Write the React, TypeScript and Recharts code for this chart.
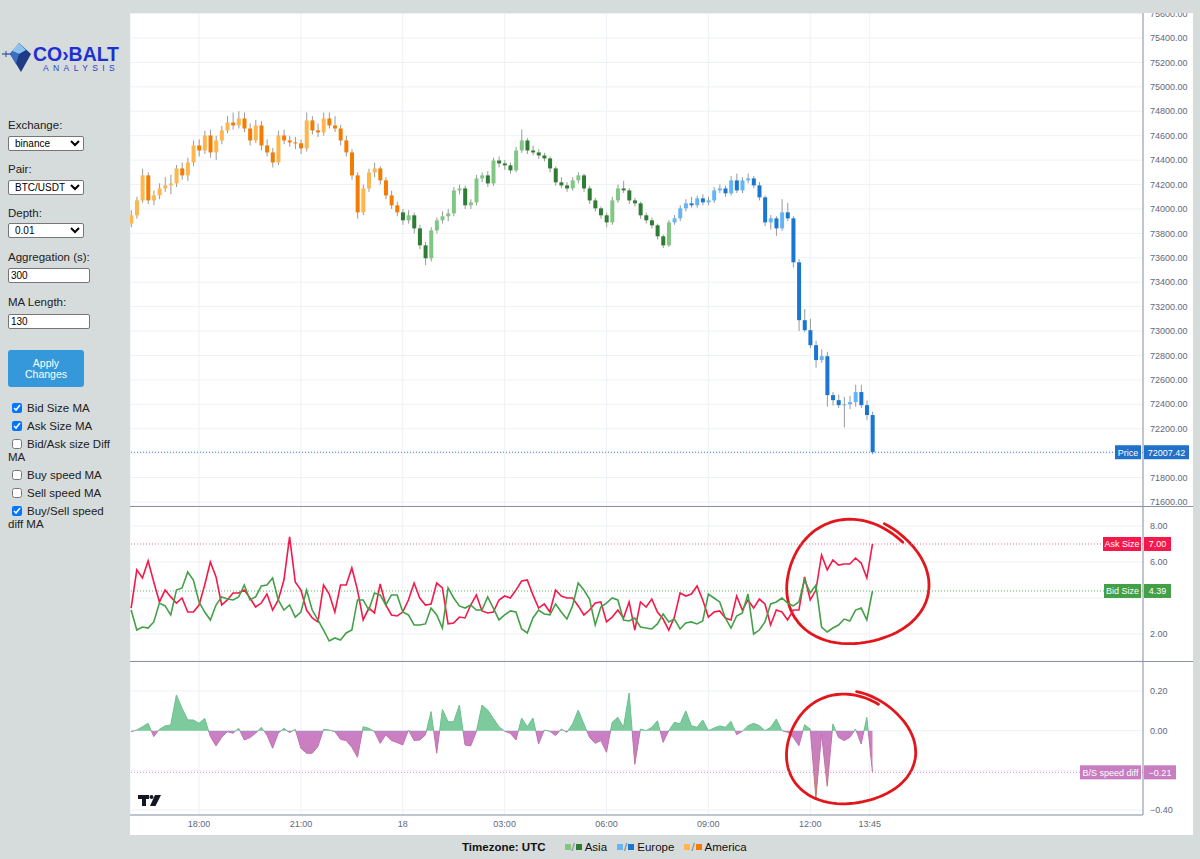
import React from "react";
import {
  ComposedChart,
  Bar,
  Line,
  Area,
  XAxis,
  YAxis,
  CartesianGrid,
  ReferenceLine,
  ReferenceArea,
} from "recharts";

// 10 minute bars, first bar 16:00 UTC
const BAR_MINUTES = 10;
const FIRST_HOUR = 16;

const timeTicks = [120, 300, 480, 660, 840, 1020, 1200, 1305];
const timeLabels = ["18:00", "21:00", "18", "03:00", "06:00", "09:00", "12:00", "13:45"];

const priceTicks = [
  71600, 71800, 72000, 72200, 72400, 72600, 72800, 73000, 73200, 73400, 73600,
  73800, 74000, 74200, 74400, 74600, 74800, 75000, 75200, 75400, 75600,
];
const sizeTicks = [2, 4, 6, 8];
const speedTicks = [-0.4, -0.2, 0, 0.2];

// [open, high, low, close]
const priceBars: [number, number, number, number][] = [
  [73880, 73990, 73850, 73948], [73948, 74100, 73920, 74070], [74070, 74330, 74050, 74275], [74275, 74300, 74040, 74070], [74070, 74150, 74030, 74111],
  [74111, 74210, 74080, 74168], [74168, 74260, 74140, 74193], [74193, 74280, 74120, 74209], [74209, 74360, 74180, 74332], [74332, 74380, 74240, 74275],
  [74275, 74420, 74230, 74381], [74381, 74560, 74350, 74520], [74520, 74570, 74430, 74479], [74479, 74640, 74450, 74602], [74602, 74650, 74420, 74463],
  [74463, 74600, 74400, 74561], [74561, 74680, 74530, 74643], [74643, 74760, 74620, 74708], [74708, 74790, 74650, 74684], [74684, 74800, 74660, 74741],
  [74741, 74790, 74630, 74659], [74659, 74700, 74520, 74561], [74561, 74730, 74540, 74684], [74684, 74720, 74480, 74520], [74520, 74570, 74430, 74463],
  [74463, 74500, 74340, 74381], [74381, 74640, 74360, 74602], [74602, 74650, 74530, 74561], [74561, 74600, 74510, 74545], [74545, 74590, 74490, 74538],
  [74538, 74570, 74450, 74496], [74496, 74790, 74470, 74725], [74725, 74760, 74610, 74643], [74643, 74700, 74590, 74627], [74627, 74790, 74600, 74741],
  [74741, 74790, 74660, 74684], [74684, 74760, 74630, 74659], [74659, 74690, 74520, 74561], [74561, 74600, 74430, 74463], [74463, 74490, 74240, 74275],
  [74275, 74300, 73920, 73972], [73972, 74200, 73950, 74168], [74168, 74330, 74140, 74299], [74299, 74380, 74260, 74332], [74332, 74350, 74200, 74234],
  [74234, 74260, 74080, 74111], [74111, 74150, 74000, 74030], [74030, 74060, 73940, 73972], [73972, 74000, 73870, 73907], [73907, 73990, 73880, 73948],
  [73948, 73970, 73800, 73841], [73841, 73870, 73670, 73702], [73702, 73730, 73540, 73596], [73596, 73850, 73570, 73825], [73825, 73930, 73800, 73907],
  [73907, 73980, 73880, 73940], [73940, 74000, 73900, 73964], [73964, 74180, 73940, 74152], [74152, 74200, 74120, 74168], [74168, 74190, 74000, 74030],
  [74030, 74080, 74000, 74054], [74054, 74280, 74030, 74250], [74250, 74300, 74220, 74275], [74275, 74310, 74180, 74209], [74209, 74420, 74190, 74397],
  [74397, 74430, 74340, 74373], [74373, 74400, 74320, 74357], [74357, 74380, 74290, 74316], [74316, 74510, 74300, 74479], [74479, 74650, 74460, 74561],
  [74561, 74580, 74450, 74479], [74479, 74520, 74440, 74463], [74463, 74490, 74410, 74438], [74438, 74460, 74390, 74414], [74414, 74430, 74300, 74332],
  [74332, 74350, 74190, 74218], [74218, 74260, 74170, 74193], [74193, 74220, 74140, 74168], [74168, 74260, 74150, 74234], [74234, 74300, 74210, 74275],
  [74275, 74290, 74140, 74168], [74168, 74190, 74040, 74070], [74070, 74090, 73980, 74005], [74005, 74020, 73920, 73948], [73948, 73970, 73850, 73890],
  [73890, 74100, 73870, 74070], [74070, 74200, 74050, 74168], [74168, 74230, 74130, 74152], [74152, 74170, 74040, 74070], [74070, 74090, 74020, 74046],
  [74046, 74060, 73920, 73948], [73948, 73970, 73880, 73907], [73907, 73930, 73840, 73866], [73866, 73880, 73750, 73776], [73776, 73790, 73680, 73702],
  [73702, 73910, 73690, 73890], [73890, 73950, 73870, 73923], [73923, 74030, 73900, 74005], [74005, 74080, 73980, 74046], [74046, 74100, 74010, 74030],
  [74030, 74110, 74010, 74087], [74087, 74120, 74030, 74054], [74054, 74100, 74030, 74070], [74070, 74180, 74050, 74152], [74152, 74200, 74130, 74168],
  [74168, 74190, 74100, 74128], [74128, 74270, 74110, 74234], [74234, 74290, 74130, 74152], [74152, 74260, 74130, 74234], [74234, 74290, 74210, 74250],
  [74250, 74270, 74170, 74193], [74193, 74220, 74070, 74095], [74095, 74110, 73860, 73890], [73890, 73950, 73830, 73923], [73923, 73940, 73780, 73841],
  [73841, 74080, 73820, 73972], [73972, 74050, 73900, 73923], [73923, 73940, 73520, 73563], [73563, 73590, 73000, 73089], [73089, 73180, 72990, 73007],
  [73007, 73100, 72860, 72884], [72884, 72920, 72700, 72762], [72762, 72850, 72740, 72794], [72794, 72830, 72380, 72475], [72475, 72500, 72390, 72434],
  [72434, 72480, 72370, 72393], [72393, 72460, 72210, 72400], [72400, 72470, 72360, 72418], [72418, 72560, 72380, 72500], [72500, 72560, 72370, 72393],
  [72393, 72430, 72270, 72312], [72312, 72340, 71990, 72007.42],
];

const askSize = [
  3.44, 5.56, 5.11, 6.06, 4.89, 3.78, 4.44, 4.06, 3.72, 4.0,
  3.22, 3.22, 3.61, 4.72, 6.0, 5.17, 3.61, 3.89, 4.28, 4.28,
  4.44, 4.0, 3.5, 3.72, 4.22, 3.33, 3.89, 5.0, 7.39, 4.89,
  4.44, 3.33, 2.89, 2.67, 4.72, 4.22, 3.22, 4.72, 4.72, 5.67,
  4.44, 2.78, 3.44, 3.17, 4.78, 3.61, 3.06, 3.0, 3.22, 3.89,
  4.83, 4.0, 3.61, 3.67, 4.83, 4.56, 2.56, 2.61, 2.94, 2.89,
  3.61, 4.17, 3.28, 3.17, 3.22, 3.89, 4.11, 4.0, 4.44, 4.94,
  5.0, 4.17, 3.44, 3.67, 3.22, 4.44, 4.11, 4.0, 4.0, 3.56,
  3.06, 3.33, 3.72, 3.78, 2.67, 2.94, 3.33, 2.89, 3.78, 2.22,
  3.78, 3.5, 3.94, 3.22, 2.83, 2.22, 2.94, 4.28, 4.11, 4.22,
  4.67, 3.89, 2.94, 3.22, 3.28, 2.89, 2.78, 4.11, 3.33, 3.89,
  3.44, 3.94, 3.67, 2.5, 3.33, 3.22, 2.78, 3.33, 3.33, 5.17,
  3.89, 4.44, 6.39, 5.56, 6.11, 5.83, 5.89, 5.89, 6.22, 5.94,
  5.11, 7.0,
];

const bidSize = [
  3.33, 2.22, 2.39, 2.33, 2.67, 3.72, 3.56, 3.06, 4.44, 4.56,
  5.44, 5.0, 3.78, 3.22, 2.78, 3.61, 4.06, 3.94, 3.89, 4.06,
  4.72, 3.89, 4.06, 4.67, 4.72, 5.11, 3.89, 3.33, 3.61, 2.94,
  3.22, 4.44, 3.33, 2.78, 2.22, 1.61, 1.78, 1.67, 2.06, 2.22,
  3.89, 3.89, 3.33, 4.28, 4.17, 3.61, 4.17, 4.17, 3.22, 3.06,
  2.5, 2.5, 2.56, 3.44, 3.06, 2.33, 4.56, 4.0, 3.56, 3.44,
  3.61, 3.33, 3.33, 4.06, 3.44, 2.78, 3.06, 3.28, 3.22, 2.28,
  2.06, 2.89, 3.33, 3.11, 3.06, 3.67, 3.22, 2.83, 3.56, 4.83,
  4.44, 3.94, 2.5, 3.5, 3.72, 4.0, 3.89, 2.78, 2.72, 2.89,
  2.39, 2.33, 2.28, 2.56, 3.11, 2.67, 2.83, 2.28, 2.61, 2.67,
  2.56, 2.72, 4.22, 4.0, 3.78, 2.89, 2.33, 3.0, 3.17, 4.22,
  2.0, 2.22, 2.67, 3.67, 3.78, 4.0, 3.72, 3.56, 3.78, 5.0,
  4.28, 4.72, 2.39, 2.11, 2.33, 2.5, 2.83, 2.72, 3.33, 3.44,
  2.78, 4.39,
];

const speedDiff = [
  -0.005, 0.003, 0.02, 0.037, -0.03, 0.007, 0.024, 0.029, 0.18, 0.113,
  0.054, 0.054, 0.037, 0.062, -0.03, -0.077, -0.034, -0.005, -0.013, 0.012,
  -0.047, -0.035, -0.013, 0.017, -0.022, -0.089, -0.013, 0.012, -0.01, 0.007,
  -0.089, -0.114, -0.114, -0.08, 0.007, 0.003, -0.005, -0.044, -0.05, -0.084,
  -0.134, 0.02, 0.012, -0.005, -0.064, -0.022, -0.05, -0.06, -0.072, 0.003,
  -0.05, -0.047, -0.022, 0.096, -0.114, 0.107, 0.045, 0.045, 0.129, -0.072,
  -0.077, -0.005, 0.129, 0.104, 0.062, 0.02, -0.003, -0.013, -0.047, 0.064,
  0.02, 0.064, -0.067, 0.003, -0.003, -0.025, 0.008, -0.008, 0.034, 0.104,
  0.034, -0.034, -0.064, -0.05, -0.109, 0.042, 0.067, 0.017, 0.19, -0.17,
  0.008, 0.0, 0.017, 0.05, -0.059, 0.0, 0.042, 0.034, 0.1, 0.025,
  0.017, 0.054, 0.0, 0.013, 0.024, 0.017, 0.047, -0.02, -0.003, 0.025,
  0.037, 0.025, 0.0, 0.017, 0.059, 0.0, -0.008, -0.034, -0.076, 0.03,
  0.008, -0.34, -0.017, -0.28, 0.034, -0.034, -0.05, -0.034, 0.008, -0.067,
  0.067, -0.21,
];

const sessionColors = {
  asia: { up: "#81c784", down: "#2e7d32" },
  europe: { up: "#64b5f6", down: "#1976d2" },
  america: { up: "#ffb74d", down: "#f57c00" },
};

const rows = priceBars.map(([open, high, low, close], i) => ({
  t: i * BAR_MINUTES,
  open,
  high,
  low,
  close,
  range: [low, high],
  ask: askSize[i],
  bid: bidSize[i],
  speed: speedDiff[i],
}));

const W = 1063;
const X_DOMAIN = [-2, 1788];
const AXIS = "#8a93a6";
const GRID = "#eef1f6";
const TEXT = "#5f687c";
const FONT = "'Liberation Sans', Arial, sans-serif";
const tick = { fill: TEXT, fontSize: 9, fontFamily: FONT };
const fmt = (v: number) => v.toFixed(2).replace("-", "\u2212");
const noMargin = { top: 0, right: 0, bottom: 0, left: 0 };

function sessionOf(minute: number) {
  const hour = (FIRST_HOUR + Math.floor(minute / 60)) % 24;
  if (hour >= 16) return sessionColors.america;
  if (hour < 8) return sessionColors.asia;
  return sessionColors.europe;
}

// axis tick that stays hidden under a value tag, like the trading view scale
function ScaleTick(props: any) {
  const { x, y, payload, tags, gap } = props;
  const v = payload.value;
  if ((tags as number[]).some((t) => Math.abs(t - v) < gap)) return null;
  return (
    <text x={x} y={y} dy="0.355em" textAnchor="start" fill={TEXT} fontSize={9} fontFamily={FONT}>
      {fmt(v)}
    </text>
  );
}

function Candle(props: any) {
  const { x, y, width, height, payload } = props;
  if (!payload || x == null) return null;
  const { open, high, low, close, t } = payload;
  const top = Math.min(y, y + height);
  const h = Math.abs(height);
  const span = high - low || 1;
  const yOf = (v: number) => top + ((high - v) / span) * h;
  const bodyTop = yOf(Math.max(open, close));
  const bodyBottom = yOf(Math.min(open, close));
  const colors = sessionOf(t);
  const cx = x + width / 2;
  return (
    <g>
      <line x1={cx} x2={cx} y1={top} y2={top + h} stroke="#999" strokeWidth={1} />
      <rect
        x={x}
        y={bodyTop}
        width={width}
        height={Math.max(1, bodyBottom - bodyTop)}
        fill={close >= open ? colors.up : colors.down}
      />
    </g>
  );
}

function TagLabel(props: any) {
  const { viewBox, name, value, color, nameWidth, valueWidth } = props;
  if (!viewBox) return null;
  const right = viewBox.x + viewBox.width;
  const y = viewBox.y;
  return (
    <g fontFamily={FONT} fontSize={9}>
      <rect x={right - nameWidth - 2} y={y - 7} width={nameWidth} height={14} fill={color} />
      <text x={right - 2 - nameWidth / 2} y={y + 3.5} textAnchor="middle" fill="#fff">
        {name}
      </text>
      <rect x={right + 1} y={y - 7} width={valueWidth} height={14} fill={color} />
      <text x={right + 1 + valueWidth / 2} y={y + 3.5} textAnchor="middle" fill="#fff">
        {value}
      </text>
    </g>
  );
}

// hand drawn red loop around the latest move
function Scribble(props: any) {
  const { x, y, width, height, start } = props;
  if (x == null) return null;
  const cx = x + width / 2;
  const cy = y + height / 2;
  const rx = width / 2;
  const ry = height / 2;
  const pts: string[] = [];
  const n = 96;
  const sweep = Math.PI * 2 + 0.4;
  for (let k = 0; k <= n; k++) {
    const p = k / n;
    const a = start + sweep * p;
    const wob = 1 + 0.035 * Math.sin(3 * a + 0.8) - 0.07 * p;
    pts.push(`${(cx + rx * wob * Math.cos(a)).toFixed(1)},${(cy + ry * wob * Math.sin(a)).toFixed(1)}`);
  }
  return (
    <path
      d={`M${pts.join("L")}`}
      fill="none"
      stroke="#e3161b"
      strokeWidth={2.8}
      strokeLinecap="round"
      strokeLinejoin="round"
    />
  );
}

function Sidebar() {
  const label = { position: "absolute" as const, left: 8, fontSize: 11.5, color: "#222" };
  const field = {
    position: "absolute" as const,
    left: 8,
    height: 15,
    fontSize: 10,
    padding: "0 2px",
    boxSizing: "border-box" as const,
    border: "1px solid #767676",
    borderRadius: 2,
    background: "#fff",
    fontFamily: FONT,
  };
  const check = (top: number, checked: boolean, lines: string[]) => (
    <div style={{ position: "absolute", left: 8, top, fontSize: 11.5, color: "#222", lineHeight: "12.5px" }}>
      <input
        type="checkbox"
        readOnly
        checked={checked}
        style={{ width: 10, height: 10, margin: "0 5px 0 4px", verticalAlign: "-1px" }}
      />
      {lines[0]}
      {lines[1] ? <br /> : null}
      {lines[1]}
    </div>
  );
  return (
    <div style={{ position: "absolute", left: 0, top: 0, width: 130, height: 859, fontFamily: FONT }}>
      <svg width={34} height={34} style={{ position: "absolute", left: 1, top: 41 }}>
        <polygon points="18,2 30,13 20,31 9,13" fill="#1d3b86" />
        <polygon points="18,2 25,9 18,13 11,10" fill="#8cc3ee" />
        <polygon points="11,10 18,13 15,23 9,13" fill="#3d6fc0" />
        <line x1={1} y1={13} x2={10} y2={13} stroke="#2b4f9e" strokeWidth={1.2} />
        <line x1={5} y1={10} x2={5} y2={16} stroke="#2b4f9e" strokeWidth={1} />
      </svg>
      <svg width={96} height={34} style={{ position: "absolute", left: 32, top: 42 }}>
        <text x={1} y={19} fontSize={20} fontWeight={700} fill="#1f30d2" textLength={86} lengthAdjust="spacingAndGlyphs" fontFamily={FONT}>
          CO›BALT
        </text>
        <text x={11} y={29} fontSize={8.5} fill="#2d40d0" letterSpacing={4.4} fontFamily={FONT}>
          ANALYSIS
        </text>
      </svg>
      <div style={{ ...label, top: 119 }}>Exchange:</div>
      <select style={{ ...field, top: 136, width: 76 }} defaultValue="binance">
        <option>binance</option>
      </select>
      <div style={{ ...label, top: 163 }}>Pair:</div>
      <select style={{ ...field, top: 180, width: 76 }} defaultValue="BTC/USDT">
        <option>BTC/USDT</option>
      </select>
      <div style={{ ...label, top: 207 }}>Depth:</div>
      <select style={{ ...field, top: 223, width: 76 }} defaultValue="0.01">
        <option>0.01</option>
      </select>
      <div style={{ ...label, top: 251 }}>Aggregation (s):</div>
      <input style={{ ...field, top: 268, width: 82 }} readOnly value="300" />
      <div style={{ ...label, top: 296 }}>MA Length:</div>
      <input style={{ ...field, top: 314, width: 82 }} readOnly value="130" />
      <div
        style={{
          position: "absolute",
          left: 8,
          top: 350,
          width: 76,
          height: 37,
          background: "#3498db",
          borderRadius: 3,
          color: "#fff",
          fontSize: 10.5,
          lineHeight: "11px",
          textAlign: "center",
          paddingTop: 8,
          boxSizing: "border-box",
        }}
      >
        Apply
        <br />
        Changes
      </div>
      {check(402, true, ["Bid Size MA"])}
      {check(420, true, ["Ask Size MA"])}
      {check(438, false, ["Bid/Ask size Diff", "MA"])}
      {check(469, false, ["Buy speed MA"])}
      {check(487, false, ["Sell speed MA"])}
      {check(505, true, ["Buy/Sell speed", "diff MA"])}
    </div>
  );
}

function LegendPair({ light, dark, label }: { light: string; dark: string; label: string }) {
  return (
    <span style={{ display: "inline-flex", alignItems: "center", marginRight: 10 }}>
      <span style={{ width: 6, height: 6, background: light, display: "inline-block" }} />
      <span style={{ color: "#777", margin: "0 1px" }}>/</span>
      <span style={{ width: 6, height: 6, background: dark, display: "inline-block", marginRight: 3 }} />
      {label}
    </span>
  );
}

export default function App() {
  const last = rows[rows.length - 1];
  const speedMax = Math.max(...speedDiff);
  const speedMin = Math.min(...speedDiff);
  const zeroOff = speedMax / (speedMax - speedMin);

  return (
    <div
      style={{
        position: "absolute",
        left: 0,
        top: 0,
        width: 1200,
        height: 859,
        background: "#d6dbdb",
        overflow: "hidden",
        fontFamily: FONT,
      }}
    >
      <Sidebar />

      <div style={{ position: "absolute", left: 130, top: 13, width: W, height: 822, background: "#fff" }}>
        <ComposedChart width={W} height={493} data={rows} margin={noMargin}>
          <CartesianGrid stroke={GRID} />
          <XAxis dataKey="t" type="number" domain={X_DOMAIN} ticks={timeTicks} hide allowDataOverflow />
          <YAxis
            orientation="right"
            domain={[71567, 75605]}
            ticks={priceTicks}
            interval={0}
            width={50}
            tickLine={false}
            tickSize={0}
            tickMargin={7}
            axisLine={{ stroke: AXIS }}
            tick={(p: any) => <ScaleTick {...p} tags={[last.close]} gap={55} />}
            allowDataOverflow
          />
          <Bar dataKey="range" barSize={4} shape={(p: any) => <Candle {...p} />} isAnimationActive={false} />
          <ReferenceLine
            y={last.close}
            stroke="#2f80d6"
            strokeDasharray="1 2"
            label={<TagLabel name="Price" value={last.close.toFixed(2)} color="#2170c9" nameWidth={26} valueWidth={45} />}
          />
        </ComposedChart>

        <ComposedChart width={W} height={155} data={rows} margin={noMargin}>
          <CartesianGrid stroke={GRID} />
          <XAxis dataKey="t" type="number" domain={X_DOMAIN} ticks={timeTicks} hide allowDataOverflow />
          <YAxis
            orientation="right"
            domain={[0.5, 9.11]}
            ticks={sizeTicks}
            interval={0}
            width={50}
            tickLine={false}
            tickSize={0}
            tickMargin={7}
            axisLine={{ stroke: AXIS }}
            tick={(p: any) => <ScaleTick {...p} tags={[last.ask, last.bid]} gap={0.42} />}
            allowDataOverflow
          />
          <ReferenceLine y={last.ask} stroke="#f36b88" strokeDasharray="1 2" />
          <ReferenceLine y={last.bid} stroke="#5cb660" strokeDasharray="1 2" />
          <Line dataKey="ask" type="linear" stroke="#f5184a" strokeWidth={1.6} dot={false} isAnimationActive={false} />
          <Line dataKey="bid" type="linear" stroke="#43a047" strokeWidth={1.6} dot={false} isAnimationActive={false} />
          <ReferenceLine
            y={last.ask}
            stroke="none"
            label={<TagLabel name="Ask Size" value={fmt(last.ask)} color="#f5184a" nameWidth={38} valueWidth={27} />}
          />
          <ReferenceLine
            y={last.bid}
            stroke="none"
            label={<TagLabel name="Bid Size" value={fmt(last.bid)} color="#43a047" nameWidth={37} valueWidth={27} />}
          />
          <ReferenceArea x1={1150} x2={1408} y1={1.28} y2={8.5} shape={(p: any) => <Scribble {...p} start={-1.15} />} />
        </ComposedChart>

        <ComposedChart width={W} height={174} data={rows} margin={noMargin}>
          <defs>
            <linearGradient id="speedFill" x1="0" y1="0" x2="0" y2="1">
              <stop offset={0} stopColor="#7dca9d" />
              <stop offset={zeroOff} stopColor="#7dca9d" />
              <stop offset={zeroOff} stopColor="#c97fc4" />
              <stop offset={0.75} stopColor="#c97fb8" />
              <stop offset={1} stopColor="#c98a6a" />
            </linearGradient>
            <linearGradient id="speedStroke" x1="0" y1="0" x2="0" y2="1">
              <stop offset={0} stopColor="#6bbf8e" />
              <stop offset={zeroOff} stopColor="#6bbf8e" />
              <stop offset={zeroOff} stopColor="#c070bb" />
              <stop offset={1} stopColor="#c07a68" />
            </linearGradient>
          </defs>
          <CartesianGrid stroke={GRID} />
          <XAxis
            dataKey="t"
            type="number"
            domain={X_DOMAIN}
            ticks={timeTicks}
            interval={0}
            height={20}
            tickLine={false}
            tickSize={0}
            tickMargin={6}
            axisLine={{ stroke: AXIS }}
            tick={tick}
            tickFormatter={(v: number) => timeLabels[timeTicks.indexOf(v)] ?? ""}
            allowDataOverflow
          />
          <YAxis
            orientation="right"
            domain={[-0.425, 0.351]}
            ticks={speedTicks}
            interval={0}
            width={50}
            tickLine={false}
            tickSize={0}
            tickMargin={7}
            axisLine={{ stroke: AXIS }}
            tick={(p: any) => <ScaleTick {...p} tags={[last.speed]} gap={0.035} />}
            allowDataOverflow
          />
          <ReferenceLine y={last.speed} stroke="#d98ad2" strokeDasharray="1 2" />
          <Area
            dataKey="speed"
            type="linear"
            baseValue={0}
            stroke="url(#speedStroke)"
            strokeWidth={1}
            fill="url(#speedFill)"
            fillOpacity={1}
            isAnimationActive={false}
          />
          <ReferenceLine
            y={last.speed}
            stroke="none"
            label={<TagLabel name="B/S speed diff" value={fmt(last.speed)} color="#c77dc0" nameWidth={61} valueWidth={32} />}
          />
          <ReferenceArea x1={1150} x2={1385} y1={-0.384} y2={0.195} shape={(p: any) => <Scribble {...p} start={-1.45} />} />
        </ComposedChart>

        {/* pane separators */}
        <div style={{ position: "absolute", left: 0, top: 493, width: W, height: 1, background: AXIS }} />
        <div style={{ position: "absolute", left: 0, top: 648, width: W, height: 1, background: AXIS }} />

        {/* tradingview mark */}
        <svg width={24} height={12} style={{ position: "absolute", left: 8, top: 782 }}>
          <path d="M0 0H11V4H8V11H4V4H0Z" fill="#131722" />
          <circle cx={13.5} cy={2} r={2} fill="#131722" />
          <path d="M17 0H23L17.5 11H12Z" fill="#131722" />
        </svg>
      </div>

      <div
        style={{
          position: "absolute",
          left: 462,
          top: 841,
          fontSize: 11.5,
          color: "#111",
          display: "flex",
          alignItems: "center",
          whiteSpace: "nowrap",
        }}
      >
        <b style={{ marginRight: 19 }}>Timezone: UTC</b>
        <LegendPair light={sessionColors.asia.up} dark={sessionColors.asia.down} label="Asia" />
        <LegendPair light={sessionColors.europe.up} dark={sessionColors.europe.down} label="Europe" />
        <LegendPair light={sessionColors.america.up} dark={sessionColors.america.down} label="America" />
      </div>
    </div>
  );
}
